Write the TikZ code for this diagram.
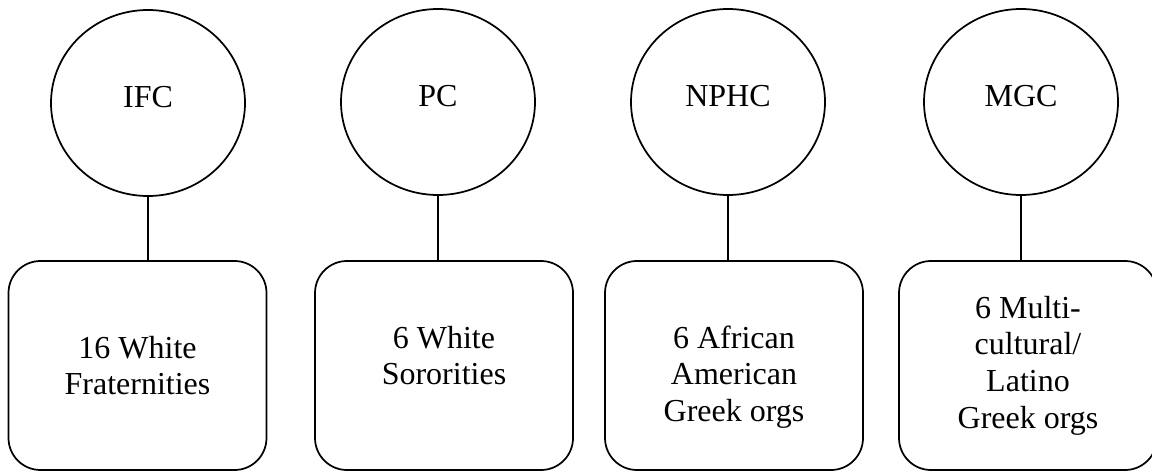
\documentclass[tikz,border=0pt]{standalone}
\usepackage{fontspec}
\setmainfont{Liberation Serif}
\usetikzlibrary{
  positioning,
  shapes.geometric
}
\tikzset{
  council/.style={
    draw,
    ellipse,
    line width=1.3pt,
    minimum width=145.5pt,
    minimum height=139.5pt,
    inner sep=0pt,
    text depth=9pt,
    font=\fontsize{24}{27.5}\selectfont
  },
  orgbox/.style={
    draw,
    line width=1.3pt,
    rounded corners=24pt,
    align=center,
    minimum width=193.5pt,
    minimum height=156.75pt,
    inner sep=0pt,
    font=\fontsize{24}{27.5}\selectfont
  },
  link/.style={line width=1.3pt}
}

\begin{document}
\begin{tikzpicture}[x=0.75pt,y=-0.75pt]
  \useasboundingbox (0,0) rectangle (1152,474);

  \node[council] (ifc) at (148,103) {IFC};
  \node[council] (pc) at (438,102) {PC};
  \node[council] (nphc) at (728,102) {NPHC};
  \node[council] (mgc) at (1021,102) {MGC};

  \node[orgbox] (frat) at (137.5,365.5) {16 White\\Fraternities};
  \node[orgbox,text depth=15pt] (soro) at (444,365.5) {6 White\\Sororities};
  \node[orgbox,text height=89pt] (afam) at (734,365.5) {6 African\\American\\Greek orgs};
  \node[orgbox] (multi) at (1028,365.5) {6 Multi-\\cultural/\\Latino\\Greek orgs};

  \draw[link] (ifc.south) -- (ifc.south |- frat.north);
  \draw[link] (pc.south) -- (pc.south |- soro.north);
  \draw[link] (nphc.south) -- (nphc.south |- afam.north);
  \draw[link] (mgc.south) -- (mgc.south |- multi.north);
\end{tikzpicture}
\end{document}
